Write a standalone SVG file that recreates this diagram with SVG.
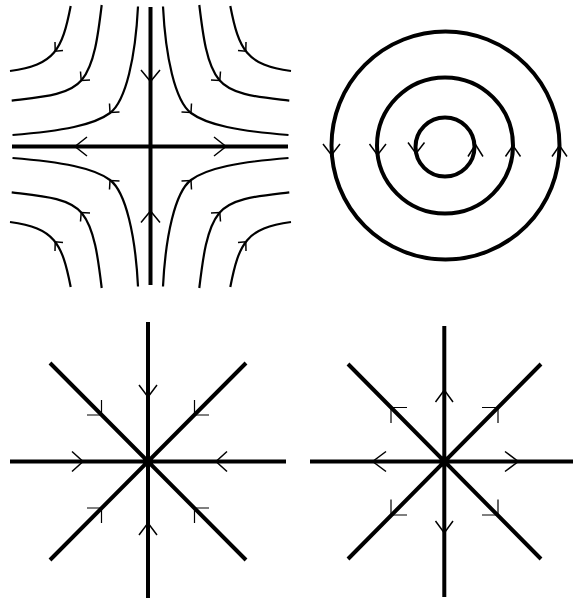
<svg xmlns="http://www.w3.org/2000/svg" width="574" height="601" viewBox="0 0 574 601">
<style>
.axis{stroke:#000;stroke-width:4;fill:none;stroke-linecap:butt}
.curve{stroke:#000;stroke-width:2.2;fill:none}
.ring{stroke:#000;stroke-width:4;fill:none}
.arr{stroke:#000;stroke-width:1.5;fill:none;stroke-linejoin:miter}
.darr{stroke:#000;stroke-width:1.2;fill:none}
</style>
<defs>
<g id="quad">
<path class="curve" d="M-12.5,-140 C-15,-90 -24.5,-45.5 -40.5,-33.5 C-56.5,-21.5 -88,-15.5 -138,-11.5"/>
<path class="curve" d="M-48.8,-141.5 C-52.4,-111.5 -56,-81.9 -68.8,-66.5 C-81.6,-51.1 -109.1,-49.4 -138.8,-45.8"/>
<path class="curve" d="M-79.8,-140.5 C-88.4,-96.4 -96,-81.4 -140.5,-75.5"/>
<path class="arr" d="M-41,-43 L-40.5,-34 L-31,-34.5"/>
<path class="arr" d="M-70,-75 L-69.3,-66 L-60.5,-66.5"/>
<path class="arr" d="M-95.5,-104.5 L-95.3,-95.3 L-87.5,-96"/>
</g>
</defs>
<rect width="574" height="601" fill="#fff"/>
<g id="saddle">
<g transform="translate(150.5,146.5)">
<use href="#quad"/>
<use href="#quad" transform="scale(-1,1)"/>
<use href="#quad" transform="scale(1,-1)"/>
<use href="#quad" transform="scale(-1,-1)"/>
</g>
<path class="axis" d="M150.5,7 V285 M12,146.5 H288"/>
<path class="arr" d="M141,70 L150.5,81.5 L160,70 M141,222.5 L150.5,211 L160,222.5 M87,137 L75,146.5 L87,156 M214,137 L226,146.5 L214,156"/>
</g>
<g id="center">
<circle class="ring" cx="445.5" cy="145.5" r="114"/>
<circle class="ring" cx="445" cy="145.5" r="68"/>
<circle class="ring" cx="445" cy="147" r="29.5"/>
<path class="arr" d="M323,144 L331.5,155 L340,144 M369.5,144 L377.5,155 L386,144 M408,142.5 L416,153.5 L424.5,142.5"/>
<path class="arr" d="M468,156.5 L475.5,144.5 L483,156.5 M505.5,156.5 L513,145.5 L520.5,156.5 M552,156.5 L559.5,145.5 L567,156.5"/>
</g>
<g id="sink">
<path class="axis" d="M148,322 V598 M10,461.5 H286 M50,363 L246,560 M246,363 L50,560"/>
<path class="arr" d="M139,385 L148,397 L157,385 M139,535 L148,523 L157,535 M72,451.5 L83,461.5 L72,471.5 M227,451.5 L216,461.5 L227,471.5"/>
<path class="darr" d="M87,415 L101.5,415 L101.5,400 M209,415 L194.5,415 L194.5,400 M87,508 L101.5,508 L101.5,523 M209,508 L194.5,508 L194.5,523"/>
</g>
<g id="source">
<path class="axis" d="M444.3,326 V597 M310,461.5 H573 M348,364 L541,559 M541,364 L348,559"/>
<path class="arr" d="M435.5,402 L444.3,390 L453,402 M435.5,521 L444.3,533 L453,521 M386,451.5 L372.7,461.5 L386,471.5 M505,451.5 L518.3,461.5 L505,471.5"/>
<path class="darr" d="M407,407.5 L391,407.5 L391,423 M482,407.5 L498,407.5 L498,423 M391,499.5 L391,515 L407,515 M482,515 L498,515 L498,499.5"/>
</g>
</svg>
